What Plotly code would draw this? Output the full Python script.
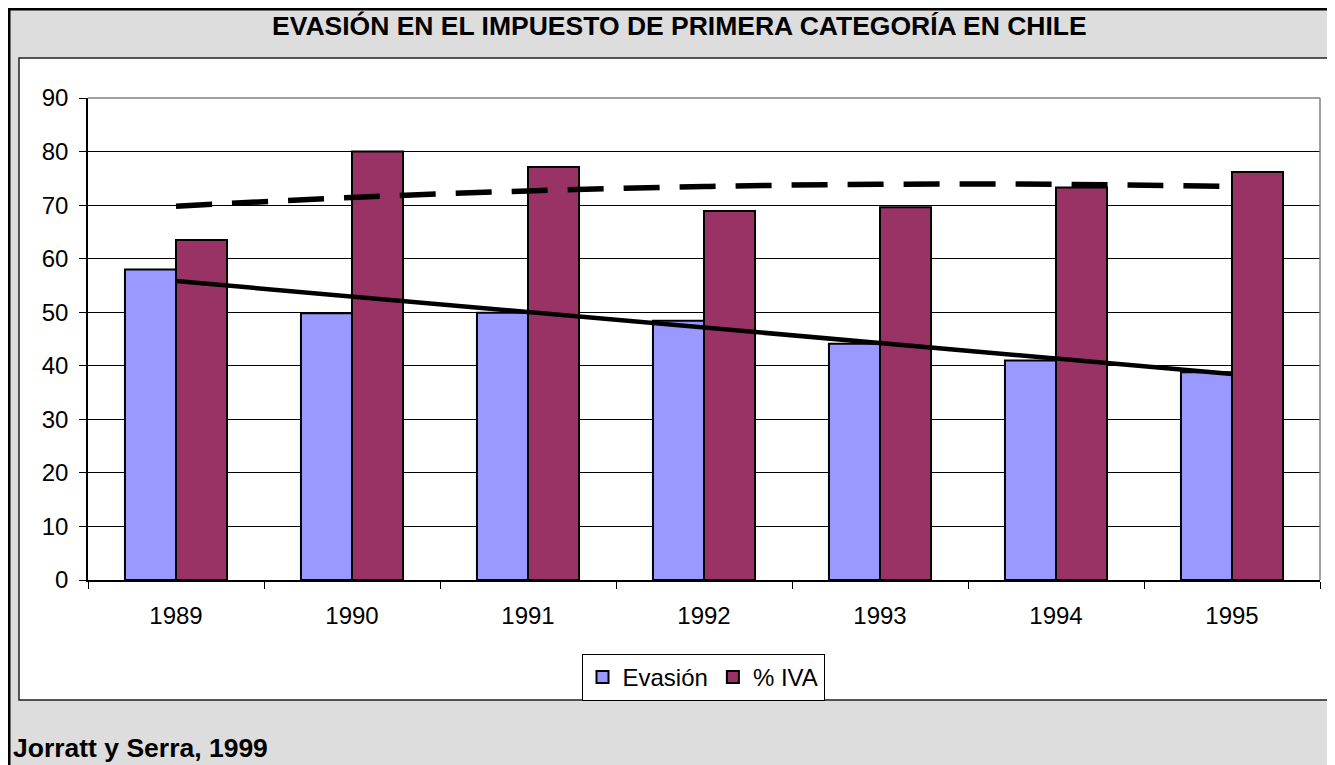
import numpy as np
import plotly.graph_objects as go

# datos
anios = ['1989', '1990', '1991', '1992', '1993', '1994', '1995']
evasion = [58.0, 49.8, 49.9, 48.4, 44.1, 41.0, 38.8]
iva = [63.5, 80.0, 77.1, 68.9, 69.6, 73.3, 76.2]
titulo = 'EVASIÓN EN EL IMPUESTO DE PRIMERA CATEGORÍA EN CHILE'
fuente = 'Jorratt y Serra, 1999'

# la pagina html deja 8px de margen en el body: la figura empieza en (8, 8)
OFF = 8
W, H = 1335 - OFF, 765 - OFF
L, R, T, B = 88, 1320, 98, 580   # area del grafico, en pixeles de la ventana


def px(x):
    return (x - L) / (R - L)


def py(y):
    return (B - y) / (B - T)


# lineas de tendencia (como en Excel: lineal y polinomica de grado 2)
idx = np.arange(len(anios))
tend_ev = np.polyval(np.polyfit(idx, evasion, 1), idx)
tend_iva = np.polyval(np.polyfit(idx, iva, 2), idx)

fig = go.Figure()
fig.add_bar(x=anios, y=evasion, name='Evasión',
            marker=dict(color='#9999FF', line=dict(color='black', width=2)))
fig.add_bar(x=anios, y=iva, name='% IVA',
            marker=dict(color='#993366', line=dict(color='black', width=2)))
fig.add_scatter(x=anios, y=tend_ev, mode='lines', showlegend=False, hoverinfo='skip',
                line=dict(color='black', width=4.5))
fig.add_scatter(x=anios, y=tend_iva, mode='lines', showlegend=False, hoverinfo='skip',
                line=dict(color='black', width=5.5, dash='36px,20px', shape='spline'))

shapes = [
    # marco exterior negro
    dict(type='rect', xref='paper', yref='paper', layer='below',
         x0=px(9), x1=px(1345), y0=py(9), y1=py(775),
         line=dict(color='black', width=3), fillcolor='rgba(0,0,0,0)'),
    # area blanca del grafico
    dict(type='rect', xref='paper', yref='paper', layer='below',
         x0=px(19), x1=px(1345), y0=py(58), y1=py(700),
         line=dict(color='#222222', width=1.5), fillcolor='white'),
    # borde gris superior y derecho del area de trazado
    dict(type='line', xref='paper', yref='paper', x0=0, x1=1, y0=1, y1=1,
         line=dict(color='#808080', width=1.5)),
    dict(type='line', xref='paper', yref='paper', x0=1, x1=1, y0=0, y1=1,
         line=dict(color='#808080', width=1.5)),
]

annotations = [
    dict(text='<b>' + titulo + '</b>', xref='paper', yref='paper',
         x=px(679), y=py(26), xanchor='center', yanchor='middle', showarrow=False,
         font=dict(size=26.5, color='black')),
    dict(text='<b>' + fuente + '</b>', xref='paper', yref='paper',
         x=px(11), y=py(748), xanchor='left', yanchor='middle', showarrow=False,
         font=dict(size=26.5, color='black')),
]

fig.update_layout(
    width=W, height=H,
    margin=dict(l=L - OFF, r=1335 - R, t=T - OFF, b=765 - B),
    paper_bgcolor='#DDDDDD',
    plot_bgcolor='#C0C0C0',
    barmode='group', bargap=0.42, bargroupgap=0,
    font=dict(family='Liberation Sans, Arial, sans-serif', size=24, color='black'),
    shapes=shapes,
    annotations=annotations,
    legend=dict(orientation='h', x=px(703), y=py(654), xanchor='center', yanchor='top',
                bgcolor='white', bordercolor='black', borderwidth=1,
                font=dict(size=24), itemwidth=30, tracegroupgap=0),
)
fig.update_xaxes(type='category', showline=True, linecolor='black', linewidth=1.5,
                 ticks='outside', tickson='boundaries', ticklen=7, tickcolor='black',
                 showgrid=False, ticklabelstandoff=13)
fig.update_yaxes(range=[0, 90], dtick=10, showline=True, linecolor='black', linewidth=1.5,
                 ticks='outside', ticklen=7, tickcolor='black',
                 showgrid=True, gridcolor='black', gridwidth=1, zeroline=False,
                 ticklabelstandoff=6)

fig.write_html('out.html')
